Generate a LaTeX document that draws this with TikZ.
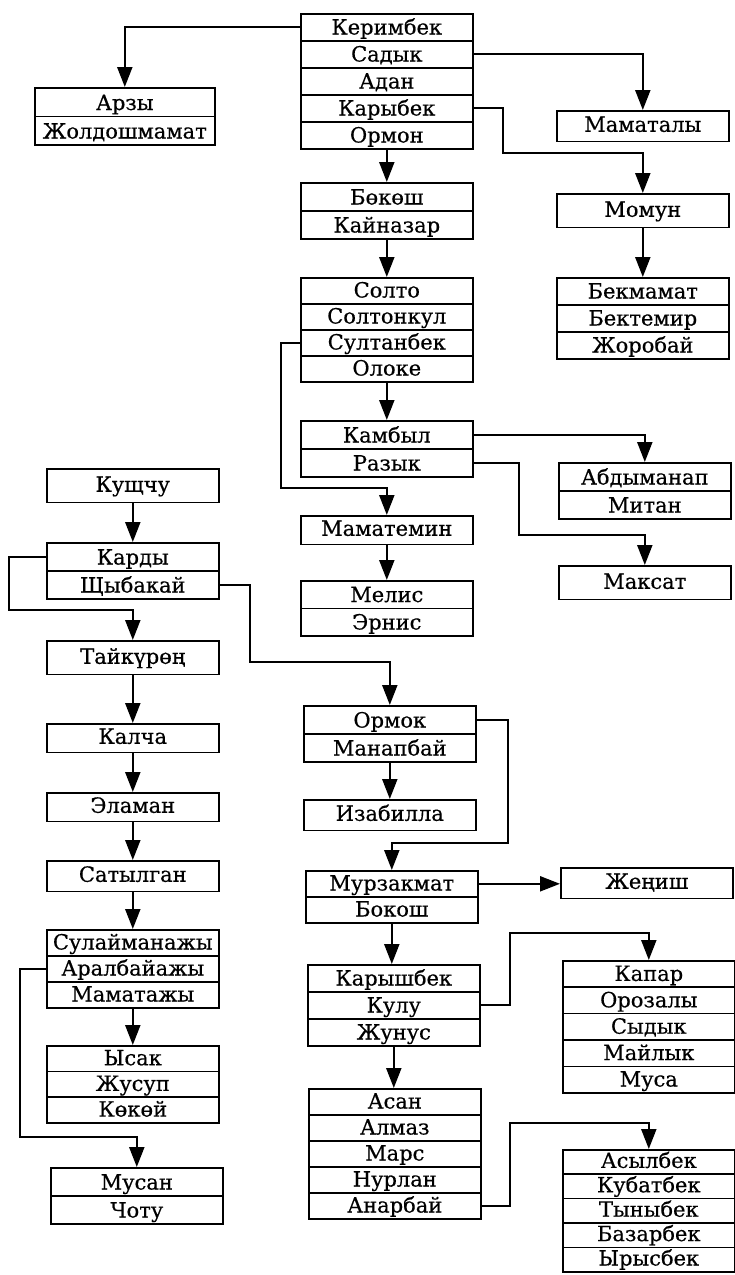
\documentclass[tikz,border=0pt]{standalone}
\usepackage{fontspec}
\setmainfont{DejaVu Serif}
\newfontfamily\namefont{DejaVu Serif}[FakeBold=0.5]
\usetikzlibrary{shapes.multipart}
\usetikzlibrary{arrows.meta}
\newcommand{\rw}[1][27pt]{\rule[-5.5pt]{0pt}{\dimexpr#1-1.6pt\relax}}
\tikzset{
	namebox/.style={draw, line width=1.6pt, anchor=north west, inner xsep=0pt, inner ysep=0pt,
		text width=172pt, align=center, font=\namefont\fontsize{21}{25}\selectfont},
	namelist/.style={namebox, rectangle split, rectangle split parts=#1},
	onebox/.style={namebox, text height=21pt, text depth=9.5pt},
	link/.style={line width=2.2pt, -{Triangle[length=20pt,width=15pt]}},
}
\begin{document}
\begin{tikzpicture}[x=1pt,y=-1pt]
		\useasboundingbox (0,0) rectangle (734,1275);
\par
		\node[namelist=5] (kerim) at (300,13) {\rw Керимбек \nodepart{two}\rw Садык \nodepart{three}\rw Адан \nodepart{four}\rw Карыбек \nodepart{five}\rw Ормон};
		\node[namelist=2, text width=180pt] (arzy) at (34,87) {\rw[28.5pt]Арзы \nodepart{two}\rw[28.5pt]Жолдошмамат};
		\node[onebox] (mamatal) at (556,110) {Маматалы};
		\node[namelist=2] (bokosh) at (300,182) {\rw[28pt]Бөкөш \nodepart{two}\rw[28pt]Кайназар};
		\node[onebox, text height=23pt, text depth=10.5pt] (momun) at (556,193) {Момун};
		\node[namelist=4] (solto) at (300,277) {\rw[26pt]Солто \nodepart{two}\rw[26pt]Солтонкул \nodepart{three}\rw[26pt]Султанбек \nodepart{four}\rw[26pt]Олоке};
		\node[namelist=3] (bekm) at (556,277) {\rw Бекмамат \nodepart{two}\rw Бектемир \nodepart{three}\rw Жоробай};
		\node[namelist=2] (kambyl) at (300,420) {\rw[28pt]Камбыл \nodepart{two}\rw[28pt]Разык};
		\node[namelist=2] (abdym) at (558,462) {\rw[28pt]Абдыманап \nodepart{two}\rw[28pt]Митан};
		\node[onebox, text height=23pt, text depth=10.5pt] (maksat) at (558,565) {Максат};
		\node[onebox, text height=20pt, text depth=8.5pt] (mamatem) at (300,515) {Маматемин};
		\node[namelist=2] (melis) at (300,580) {\rw[27.5pt]Мелис \nodepart{two}\rw[27.5pt]Эрнис};
\par
		\node[onebox, text height=23pt, text depth=10.5pt] (kushchu) at (46,468) {Кущчу};
		\node[namelist=2] (kardy) at (46,542) {\rw[28pt]Карды \nodepart{two}\rw[28pt]Щыбакай};
		\node[onebox, text height=23pt, text depth=10.5pt] (taik) at (46,640) {Тайкүрөң};
		\node[onebox, text height=20pt, text depth=8.5pt] (kalcha) at (46,723) {Калча};
		\node[onebox, text height=20pt, text depth=8.5pt] (elaman) at (46,792) {Эламан};
		\node[onebox] (satyl) at (46,860) {Сатылган};
		\node[namelist=3] (sulai) at (46,929) {\rw[26pt]Сулайманажы \nodepart{two}\rw[26pt]Аралбайажы \nodepart{three}\rw[26pt]Маматажы};
		\node[namelist=3] (ysak) at (46,1045) {\rw[25.7pt]Ысак \nodepart{two}\rw[25.7pt]Жусуп \nodepart{three}\rw[25.7pt]Көкөй};
		\node[namelist=2] (musan) at (50,1167) {\rw[28pt]Мусан \nodepart{two}\rw[28pt]Чоту};
\par
		\node[namelist=2] (ormok) at (303,705) {\rw[28pt]Ормок \nodepart{two}\rw[28pt]Манапбай};
		\node[onebox] (izab) at (303,799) {Изабилла};
		\node[namelist=2] (murz) at (305,870) {\rw[26pt]Мурзакмат \nodepart{two}\rw[26pt]Бокош};
		\node[onebox] (zhen) at (560,867) {Жеңиш};
		\node[namelist=3] (karysh) at (307,964) {\rw Карышбек \nodepart{two}\rw Кулу \nodepart{three}\rw Жунус};
		\node[namelist=5] (kapar) at (562,960) {\rw[26.4pt]Капар \nodepart{two}\rw[26.4pt]Орозалы \nodepart{three}\rw[26.4pt]Сыдык \nodepart{four}\rw[26.4pt]Майлык \nodepart{five}\rw[26.4pt]Муса};
		\node[namelist=5] (asan) at (308,1088) {\rw[26pt]Асан \nodepart{two}\rw[26pt]Алмаз \nodepart{three}\rw[26pt]Марс \nodepart{four}\rw[26pt]Нурлан \nodepart{five}\rw[26pt]Анарбай};
		\node[namelist=5] (asyl) at (562,1149) {\rw[24.4pt]Асылбек \nodepart{two}\rw[24.4pt]Кубатбек \nodepart{three}\rw[24.4pt]Тыныбек \nodepart{four}\rw[24.4pt]Базарбек \nodepart{five}\rw[24.4pt]Ырысбек};
\par
		\coordinate (m1) at (503,153);
		\coordinate (s1) at (281,488);
		\coordinate (r1) at (519,535);
		\coordinate (k1) at (9,610);
		\coordinate (k2) at (250,662);
		\coordinate (a1) at (20,1137);
		\coordinate (o1) at (508,843);
		\coordinate (c1) at (510,933);
		\coordinate (c2) at (510,1123);
\par
		\draw[link] (kerim.one west) -| (arzy.north);
		\draw[link] (kerim.two east) -| (mamatal.north);
		\draw[link] (kerim.four east) -| (m1) -| (momun.north);
		\draw[link] (kerim.south) -- (bokosh.north);
		\draw[link] (bokosh.south) -- (solto.north);
		\draw[link] (momun.south) -- (bekm.north);
		\draw[link] (solto.south) -- (kambyl.north);
		\draw[link] (solto.three west) -| (s1) -| (mamatem.north);
		\draw[link] (kambyl.one east) -| (abdym.north);
		\draw[link] (kambyl.two east) -| (r1) -| (maksat.north);
		\draw[link] (mamatem.south) -- (melis.north);
\par
		\draw[link] (kushchu.south) -- (kardy.north);
		\draw[link] (kardy.one west) -| (k1) -| (taik.north);
		\draw[link] (kardy.two east) -| (k2) -| (ormok.north);
		\draw[link] (taik.south) -- (kalcha.north);
		\draw[link] (kalcha.south) -- (elaman.north);
		\draw[link] (elaman.south) -- (satyl.north);
		\draw[link] (satyl.south) -- (sulai.north);
		\draw[link] (sulai.south) -- (ysak.north);
		\draw[link] (sulai.two west) -| (a1) -| (musan.north);
\par
		\draw[link] (ormok.south) -- (ormok.south |- izab.north);
		\draw[link] (ormok.one east) -| (o1) -| (murz.north);
		\draw[link] (murz.one east) -- (murz.one east -| zhen.west);
		\draw[link] (murz.south) -- (murz.south |- karysh.north);
		\draw[link] (karysh.two east) -| (c1) -| (kapar.north);
		\draw[link] (karysh.south) -- (karysh.south |- asan.north);
		\draw[link] (asan.five east) -| (c2) -| (asyl.north);
	\end{tikzpicture}
\end{document}
